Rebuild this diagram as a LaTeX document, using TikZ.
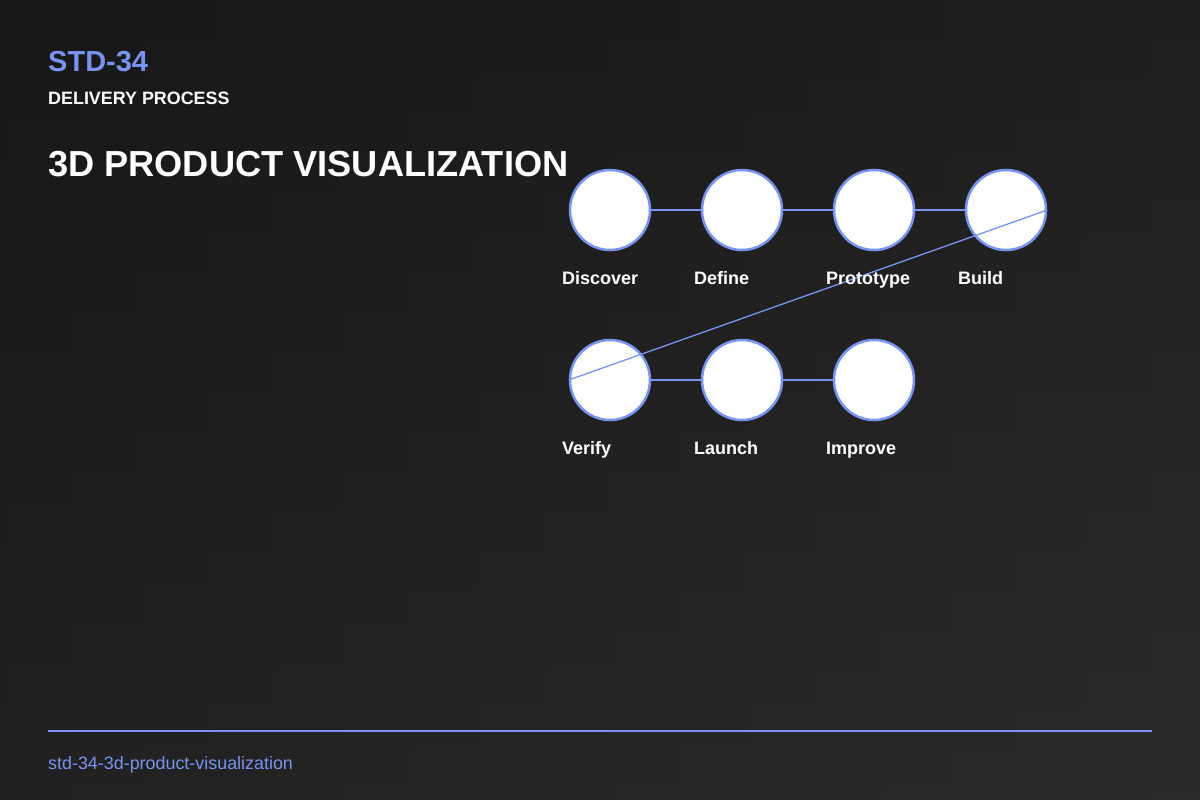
\documentclass[tikz,border=0pt]{standalone}
\usepackage{fontspec}
\setmainfont{Liberation Sans}
\definecolor{acc}{HTML}{7B93F0}
\begin{document}
\begin{tikzpicture}[x=1pt,y=-1pt,
 stepc/.style={circle,draw=acc,line width=2.5pt,fill=white,minimum size=80pt,inner sep=0pt},
 lbl/.style={anchor=base west,text=white,font=\fontsize{18}{21}\selectfont\bfseries,inner sep=0pt},
 link/.style={draw=acc,line width=2.5pt}]
\useasboundingbox (0,0) rectangle (1200,800);
\shade[left color=black!92,right color=black!85] (0,0) rectangle (1200,800);
\shade[top color=black!90,bottom color=black!82,opacity=0.5] (0,0) rectangle (1200,800);
\node[anchor=base west,text=acc,font=\fontsize{29}{33}\selectfont\bfseries,inner sep=0pt] (code) at (48,71) {STD-34};
\node[anchor=base west,text=white,font=\fontsize{17.9}{21}\selectfont\bfseries,inner sep=0pt] (sub) at (48,104) {DELIVERY PROCESS};
\node[anchor=base west,text=white,font=\fontsize{36.2}{40}\selectfont\bfseries,inner sep=0pt] (title) at (48,176) {3D PRODUCT VISUALIZATION};
\foreach \n/\x/\y in {a/610/210,b/742/210,c/874/210,d/1006/210,e/610/380,f/742/380,g/874/380}
  \node[stepc] (\n) at (\x,\y) {};
\draw[link] (a) -- (b); \draw[link] (b) -- (c); \draw[link] (c) -- (d);
\draw[link] (e) -- (f); \draw[link] (f) -- (g);
\draw[acc,line width=1.3pt] (d.east) -- (e.west);
\node[lbl] (la) at (562,284) {Discover};
\node[lbl] (lb) at (694,284) {Define};
\node[lbl] (lc) at (826,284) {Prototype};
\node[lbl] (ld) at (958,284) {Build};
\node[lbl] (le) at (562,454) {Verify};
\node[lbl] (lf) at (694,454) {Launch};
\node[lbl] (lg) at (826,454) {Improve};
\coordinate (r1) at (48,731); \coordinate (r2) at (1152,731);
\draw[acc,line width=1.5pt] (r1) -- (r2);
\node[anchor=base west,text=acc,font=\fontsize{17.9}{21}\selectfont,inner sep=0pt] (foot) at (48,769) {std-34-3d-product-visualization};
\end{tikzpicture}
\end{document}
